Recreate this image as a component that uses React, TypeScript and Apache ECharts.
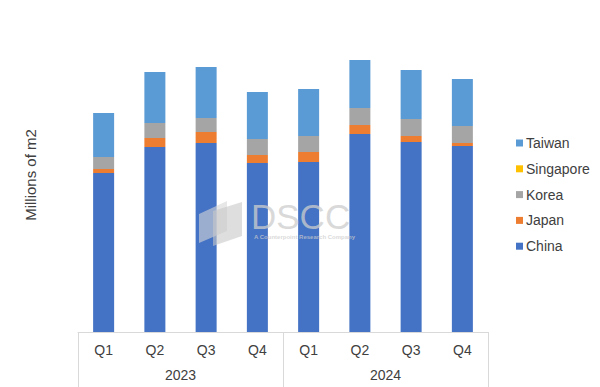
import React, { useEffect, useRef } from "react";
import * as echarts from "echarts";

const quarters = ["Q1", "Q2", "Q3", "Q4", "Q1", "Q2", "Q3", "Q4"];
const years = ["2023", "2024"];
const china = [15.9, 18.5, 18.9, 16.9, 17.0, 19.8, 19.0, 18.6];
const japan = [0.4, 0.9, 1.1, 0.8, 1.0, 0.9, 0.6, 0.3];
const korea = [1.2, 1.5, 1.4, 1.6, 1.6, 1.7, 1.7, 1.7];
const singapore = [0, 0, 0, 0, 0, 0, 0, 0];
const taiwan = [4.4, 5.1, 5.1, 4.7, 4.7, 4.8, 4.9, 4.7];
const legendOrder = ["Taiwan", "Singapore", "Korea", "Japan", "China"];

const FONT = "'Liberation Sans', Arial, sans-serif";
const TXT = "#404040";

export default function App() {
  const ref = useRef<HTMLDivElement>(null);
  useEffect(() => {
    if (!ref.current) return;
    const chart = echarts.init(ref.current, undefined, { renderer: "svg" });
    const mk = (name: string, data: number[], color: string) => ({
      name,
      type: "bar",
      stack: "total",
      data,
      barWidth: 21,
      xAxisIndex: 0,
      itemStyle: { color },
    });
    chart.setOption({
      animation: false,
      backgroundColor: "#ffffff",
      textStyle: { fontFamily: FONT },
      grid: { left: 78, right: 112, top: 32, bottom: 55 },
      legend: {
        orient: "vertical",
        left: 511,
        top: 131,
        itemWidth: 7,
        itemHeight: 7,
        itemGap: 11.8,
        icon: "rect",
        data: legendOrder,
        textStyle: { fontSize: 14, color: TXT, fontFamily: FONT, padding: [0, 0, 0, -2] },
      },
      xAxis: [
        {
          type: "category",
          data: quarters,
          position: "bottom",
          axisLine: { lineStyle: { color: "#D9D9D9" } },
          axisTick: { show: false },
          axisLabel: { fontSize: 14, color: TXT, margin: 11, fontFamily: FONT },
        },
        {
          type: "category",
          data: years,
          position: "bottom",
          offset: 0,
          axisLine: { show: false },
          axisTick: { show: true, length: 55, lineStyle: { color: "#D9D9D9" } },
          axisLabel: { fontSize: 14, color: TXT, margin: 36, fontFamily: FONT },
        },
      ],
      yAxis: {
        type: "value",
        min: 0,
        max: 30,
        axisLabel: { show: false },
        axisLine: { show: false },
        axisTick: { show: false },
        splitLine: { show: false },
      },
      series: [
        mk("China", china, "#4472C4"),
        mk("Japan", japan, "#ED7D31"),
        mk("Korea", korea, "#A5A5A5"),
        mk("Singapore", singapore, "#FFC000"),
        mk("Taiwan", taiwan, "#5B9BD5"),
      ],
      graphic: [
        {
          type: "text",
          x: 30,
          y: 175,
          rotation: Math.PI / 2,
          style: {
            text: "Millions of m2",
            fontSize: 15,
            fill: TXT,
            fontFamily: FONT,
            align: "center",
            verticalAlign: "middle",
          },
        },
        {
          type: "polygon",
          shape: { points: [[199, 214], [227, 201], [227, 231], [199, 243]] },
          style: { fill: "rgba(215,215,215,0.6)" },
          z: 100,
        },
        {
          type: "polygon",
          shape: { points: [[213, 211], [242, 202], [242, 236], [213, 246]] },
          style: { fill: "rgba(200,200,200,0.6)" },
          z: 100,
        },
        {
          type: "text",
          x: 251,
          y: 216,
          z: 100,
          style: {
            text: "DSCC",
            fontSize: 35,
            fill: "rgba(205,205,205,0.75)",
            fontFamily: FONT,
            align: "left",
            verticalAlign: "middle",
          },
        },
        {
          type: "text",
          x: 254,
          y: 237,
          z: 100,
          style: {
            text: "A Counterpoint Research Company",
            fontSize: 6,
            fontWeight: "bold",
            fill: "rgba(205,205,205,0.75)",
            fontFamily: FONT,
            align: "left",
            verticalAlign: "middle",
          },
        },
      ],
    });
    return () => chart.dispose();
  }, []);
  return (
    <div
      ref={ref}
      style={{ position: "fixed", left: 0, top: 0, width: 600, height: 387 }}
    />
  );
}
